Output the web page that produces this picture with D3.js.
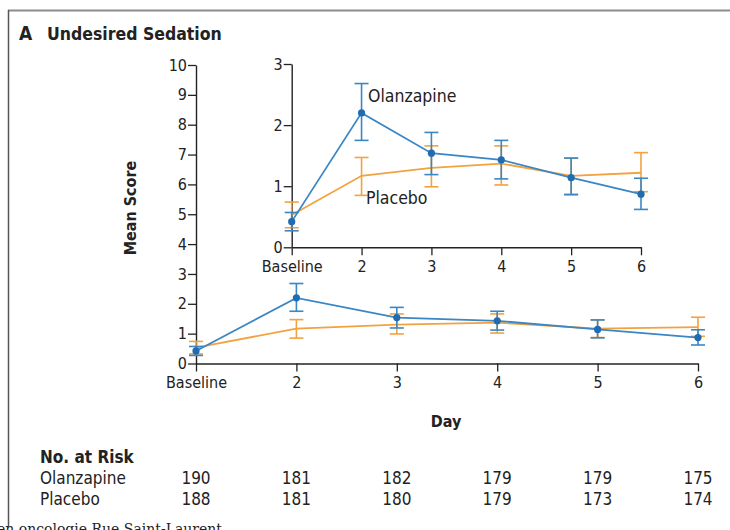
<!DOCTYPE html>
<html>
<head>
<meta charset="utf-8">
<script src="https://cdn.jsdelivr.net/npm/d3@7"></script>
<style>
  body { margin: 0; background: #fff; }
  svg { display: block; }
  text { font-family: "DejaVu Sans Condensed", "Liberation Sans Narrow", sans-serif; fill: #222; }
</style>
</head>
<body>
<div id="chart"></div>
<script>
const days = ["Baseline", "2", "3", "4", "5", "6"];
const olanMean = [0.42, 2.2, 1.54, 1.43, 1.14, 0.87];
const olanLow = [0.27, 1.75, 1.19, 1.12, 0.86, 0.62];
const olanHigh = [0.57, 2.68, 1.88, 1.75, 1.46, 1.13];
const placMean = [0.53, 1.17, 1.3, 1.37, 1.17, 1.22];
const placLow = [0.32, 0.85, 0.99, 1.02, 0.87, 0.91];
const placHigh = [0.74, 1.47, 1.66, 1.66, 1.46, 1.55];
const olanRisk = [190, 181, 182, 179, 179, 175];
const placRisk = [188, 181, 180, 179, 173, 174];
const mainTicks = d3.range(0, 11);
const insetTicks = [0, 1, 2, 3];

const blue = "#3b86c4";
const blueDot = "#1f6cb3";
const orange = "#f2a23f";

const series = [
  { name: "Placebo", mean: placMean, low: placLow, high: placHigh, color: orange, dots: false },
  { name: "Olanzapine", mean: olanMean, low: olanLow, high: olanHigh, color: blue, dots: true },
];

const width = 730, height = 530;
const svg = d3.select("#chart").append("svg").attr("width", width).attr("height", height);

// frame (cropped figure border)
svg.append("line").attr("x1", 8).attr("x2", width).attr("y1", 10.5).attr("y2", 10.5)
  .attr("stroke", "#8c8c8c").attr("stroke-width", 2);
svg.append("line").attr("x1", 8.5).attr("x2", 8.5).attr("y1", 10).attr("y2", 527)
  .attr("stroke", "#555").attr("stroke-width", 1.5);

// title
svg.append("text").attr("x", 19).attr("y", 40).text("A")
  .style("font-weight", 700).style("font-size", "19px");
svg.append("text").attr("x", 47).attr("y", 40).text("Undesired Sedation")
  .style("font-weight", 700).style("font-size", "17.5px");

const drawPanel = (g, x, y, ticks, cap, fontSize) => {
  const yAxis = g.append("g").attr("transform", `translate(${x.range()[0]},0)`)
    .call(d3.axisLeft(y).tickValues(ticks).tickFormat(d3.format("d")).tickSize(8).tickSizeOuter(0).tickPadding(1));
  const xAxis = g.append("g").attr("transform", `translate(0,${y(0)})`)
    .call(d3.axisBottom(x).tickSize(8).tickSizeOuter(0).tickPadding(5));
  [yAxis, xAxis].forEach((a) => {
    a.select(".domain").attr("stroke", "#222").attr("stroke-width", 1.4);
    a.selectAll(".tick line").attr("stroke", "#222").attr("stroke-width", 1.3);
    a.selectAll(".tick text").style("font-size", fontSize + "px").attr("fill", "#222")
      .style("font-family", "'DejaVu Sans Condensed', sans-serif");
  });

  const line = d3.line().x((d, i) => x(days[i])).y((d) => y(d));

  series.forEach((s) => {
    const sg = g.append("g");
    sg.append("path").datum(s.mean).attr("d", line).attr("fill", "none")
      .attr("stroke", s.color).attr("stroke-width", 1.8);
    const bars = sg.selectAll(".err").data(days).enter().append("g");
    bars.append("line").attr("x1", (d) => x(d)).attr("x2", (d) => x(d))
      .attr("y1", (d, i) => y(s.low[i])).attr("y2", (d, i) => y(s.high[i]))
      .attr("stroke", s.color).attr("stroke-width", 1.6);
    ["low", "high"].forEach((k) => {
      bars.append("line").attr("x1", (d) => x(d) - cap).attr("x2", (d) => x(d) + cap)
        .attr("y1", (d, i) => y(s[k][i])).attr("y2", (d, i) => y(s[k][i]))
        .attr("stroke", s.color).attr("stroke-width", 1.6);
    });
    if (s.dots) {
      sg.selectAll(".dot").data(s.mean).enter().append("circle")
        .attr("cx", (d, i) => x(days[i])).attr("cy", (d) => y(d)).attr("r", 3.6)
        .attr("fill", blueDot);
    }
  });
};

// main panel
const x = d3.scalePoint().domain(days).range([196, 698]);
const y = d3.scaleLinear().domain([0, 10]).range([363.5, 65]);
drawPanel(svg.append("g"), x, y, mainTicks, 7, 16);

// inset panel
const xi = d3.scalePoint().domain(days).range([291.7, 641]);
const yi = d3.scaleLinear().domain([0, 3]).range([247.3, 64]);
drawPanel(svg.append("g"), xi, yi, insetTicks, 7, 16);

svg.append("text").attr("x", 368).attr("y", 102).text("Olanzapine").style("font-size", "17.5px");
svg.append("text").attr("x", 366).attr("y", 204).text("Placebo").style("font-size", "17.5px");

// axis titles
svg.append("text").attr("transform", "translate(136,208) rotate(-90)").attr("text-anchor", "middle")
  .text("Mean Score").style("font-size", "16px").style("font-weight", 700);
svg.append("text").attr("x", 446).attr("y", 427).attr("text-anchor", "middle")
  .text("Day").style("font-size", "16px").style("font-weight", 700);

// number at risk
svg.append("text").attr("x", 40).attr("y", 463).text("No. at Risk")
  .style("font-size", "17px").style("font-weight", 700);
[["Olanzapine", olanRisk, 484], ["Placebo", placRisk, 505]].forEach(([name, vals, yy]) => {
  svg.append("text").attr("x", 40).attr("y", yy).text(name).style("font-size", "17px");
  svg.selectAll(null).data(vals).enter().append("text")
    .attr("x", (d, i) => x(days[i])).attr("y", yy).attr("text-anchor", "middle")
    .text((d) => d).style("font-size", "17px");
});

// cropped caption text at the bottom edge
svg.append("text").attr("x", -3).attr("y", 534).text("en oncologie Rue Saint-Laurent")
  .style("font-family", "'DejaVu Serif', 'Liberation Serif', serif").style("font-size", "14px").attr("fill", "#2a3550");
</script>
</body>
</html>
